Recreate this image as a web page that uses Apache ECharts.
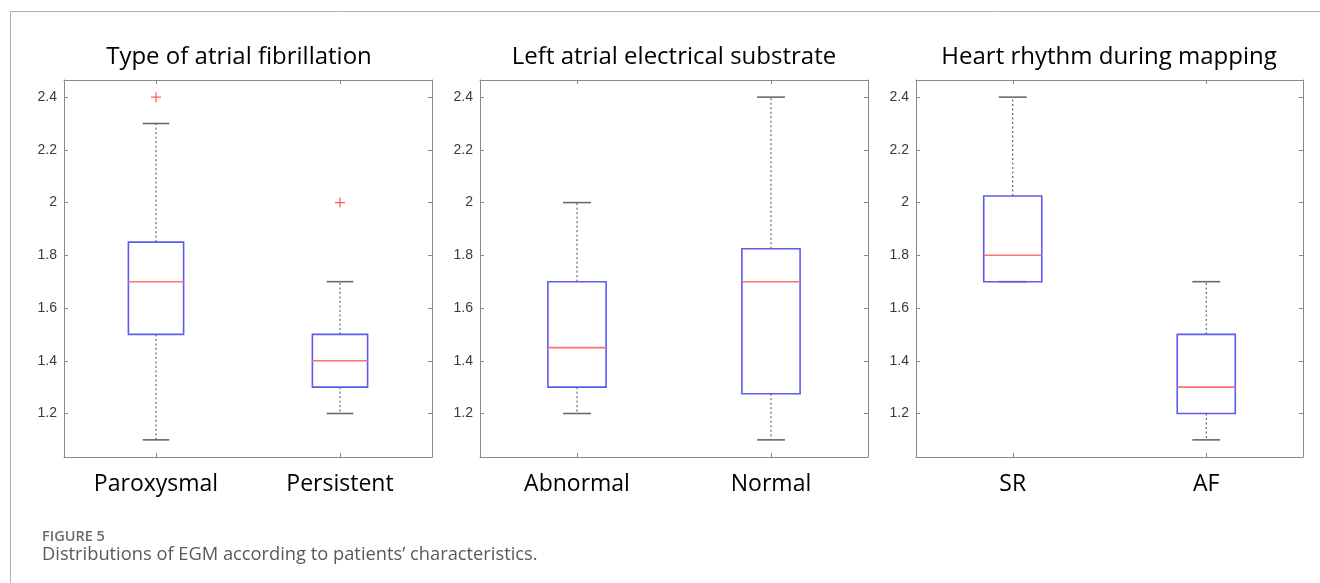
<!DOCTYPE html>
<html>
<head>
<meta charset="utf-8">
<script src="https://cdn.jsdelivr.net/npm/echarts@6/dist/echarts.min.js"></script>
<style>
html,body{margin:0;padding:0;background:#fff;}
#chart{width:1320px;height:583px;}
</style>
</head>
<body>
<div id="chart"></div>
<script>
// ---- data ----
const panelTitles = ['Type of atrial fibrillation', 'Left atrial electrical substrate', 'Heart rhythm during mapping'];
const afTypeCategories = ['Paroxysmal', 'Persistent'];
const substrateCategories = ['Abnormal', 'Normal'];
const rhythmCategories = ['SR', 'AF'];
// [lower whisker, Q1, median, Q3, upper whisker]
const afTypeBoxes = [[1.1, 1.5, 1.7, 1.85, 2.3], [1.2, 1.3, 1.4, 1.5, 1.7]];
const substrateBoxes = [[1.2, 1.3, 1.45, 1.7, 2.0], [1.1, 1.275, 1.7, 1.825, 2.4]];
const rhythmBoxes = [[1.7, 1.7, 1.8, 2.025, 2.4], [1.1, 1.2, 1.3, 1.5, 1.7]];
const afTypeOutliers = [['Paroxysmal', 2.4], ['Persistent', 2.0]];
const substrateOutliers = [];
const rhythmOutliers = [];
const yTicks = [1.2, 1.4, 1.6, 1.8, 2.0, 2.2, 2.4];
const yMin = 1.035, yMax = 2.465;
const captionLabel = 'FIGURE 5';
const captionText = 'Distributions of EGM according to patients\u2019 characteristics.';

// ---- layout ----
const grids = [
  {left: 64, top: 80, width: 368, height: 377},
  {left: 480, top: 80, width: 388, height: 377},
  {left: 916, top: 80, width: 387, height: 377}
];
const titleCenters = [234, 669, 1104];
const categorySets = [afTypeCategories, substrateCategories, rhythmCategories];
const boxSets = [afTypeBoxes, substrateBoxes, rhythmBoxes];
const outlierSets = [afTypeOutliers, substrateOutliers, rhythmOutliers];

const axisGray = '#8a8a8a';

const xAxes = [], yAxes = [], series = [], titles = [];
grids.forEach((g, i) => {
  xAxes.push({
    type: 'category', gridIndex: i, data: categorySets[i], position: 'bottom',
    axisLine: {show: true, lineStyle: {color: axisGray, width: 1}},
    axisTick: {show: true, inside: true, alignWithLabel: true, length: 4, lineStyle: {color: axisGray}},
    axisLabel: {show: true, margin: 16, color: '#000', fontSize: 23, fontFamily: 'Open Sans'},
    splitLine: {show: false}
  });
  xAxes.push({
    type: 'category', gridIndex: i, data: categorySets[i], position: 'top',
    axisLine: {show: true, lineStyle: {color: axisGray, width: 1}},
    axisTick: {show: true, inside: true, alignWithLabel: true, length: 4, lineStyle: {color: axisGray}},
    axisLabel: {show: false}, splitLine: {show: false}
  });
  yAxes.push({
    type: 'value', gridIndex: i, min: yMin, max: yMax, position: 'left',
    axisLine: {show: true, lineStyle: {color: axisGray, width: 1}},
    axisTick: {show: true, inside: true, length: 4, customValues: yTicks, lineStyle: {color: axisGray}},
    axisLabel: {show: true, customValues: yTicks, margin: 7, color: '#3a3a3a', fontSize: 14, fontFamily: 'Liberation Sans',
      formatter: v => String(+(+v).toFixed(1))},
    splitLine: {show: false}
  });
  yAxes.push({
    type: 'value', gridIndex: i, min: yMin, max: yMax, position: 'right',
    axisLine: {show: true, lineStyle: {color: axisGray, width: 1}},
    axisTick: {show: true, inside: true, length: 4, customValues: yTicks, lineStyle: {color: axisGray}},
    axisLabel: {show: false}, splitLine: {show: false}
  });
  series.push({
    type: 'custom', xAxisIndex: i * 2, yAxisIndex: i * 2, silent: true,
    data: boxSets[i].map((b, k) => [k].concat(b)),
    encode: {x: 0, y: [1, 2, 3, 4, 5]},
    renderItem: function (params, api) {
      const x = api.value(0);
      const pMin = api.coord([x, api.value(1)]);
      const pQ1 = api.coord([x, api.value(2)]);
      const pMed = api.coord([x, api.value(3)]);
      const pQ3 = api.coord([x, api.value(4)]);
      const pMax = api.coord([x, api.value(5)]);
      const band = api.size([1, 0])[0];
      const hw = band * 0.15, cw = band * 0.072;
      const cx = pMed[0];
      const dashStyle = {stroke: '#444', lineWidth: 1, lineDash: [2, 2.5]};
      const capStyle = {stroke: '#6a6a6a', lineWidth: 1.6};
      return {
        type: 'group',
        children: [
          {type: 'line', shape: {x1: cx, y1: pQ1[1], x2: cx, y2: pMin[1]}, style: dashStyle},
          {type: 'line', shape: {x1: cx, y1: pQ3[1], x2: cx, y2: pMax[1]}, style: dashStyle},
          {type: 'line', shape: {x1: cx - cw, y1: pMin[1], x2: cx + cw, y2: pMin[1]}, style: capStyle},
          {type: 'line', shape: {x1: cx - cw, y1: pMax[1], x2: cx + cw, y2: pMax[1]}, style: capStyle},
          {type: 'rect', shape: {x: cx - hw, y: pQ3[1], width: hw * 2, height: pQ1[1] - pQ3[1]},
            style: {fill: 'none', stroke: '#5b5bf0', lineWidth: 1.6}},
          {type: 'line', shape: {x1: cx - hw, y1: pMed[1], x2: cx + hw, y2: pMed[1]},
            style: {stroke: '#ff7070', lineWidth: 1.6}}
        ]
      };
    }
  });
  series.push({
    type: 'scatter', xAxisIndex: i * 2, yAxisIndex: i * 2, silent: true,
    data: outlierSets[i],
    symbol: 'path://M4.4,0H5.6V10H4.4Z M0,4.4H10V5.6H0Z',
    symbolSize: 10,
    itemStyle: {color: '#ff3030'}
  });
  titles.push({
    text: panelTitles[i], left: titleCenters[i], top: 40, textAlign: 'center',
    textStyle: {fontFamily: 'Open Sans', fontSize: 24, fontWeight: 'normal', color: '#000'}
  });
});
titles.push({
  text: captionLabel, left: 37, top: 524,
  textStyle: {fontFamily: 'Open Sans', fontSize: 14.5, fontWeight: 600, color: '#6b6b6b'}
});
titles.push({
  text: captionText, left: 37, top: 541,
  textStyle: {fontFamily: 'Open Sans', fontSize: 18.3, fontWeight: 'normal', color: '#5a5a5a'}
});

const chart = echarts.init(document.getElementById('chart'), null, {renderer: 'canvas'});
chart.setOption({
  backgroundColor: '#fff',
  animation: false,
  title: titles,
  grid: grids,
  xAxis: xAxes,
  yAxis: yAxes,
  series: series,
  graphic: [
    {type: 'line', shape: {x1: 10, y1: 11.5, x2: 1320, y2: 11.5}, style: {stroke: '#b0b0b0', lineWidth: 1}},
    {type: 'line', shape: {x1: 10.5, y1: 11, x2: 10.5, y2: 583}, style: {stroke: '#b0b0b0', lineWidth: 1}}
  ]
});
</script>
</body>
</html>
